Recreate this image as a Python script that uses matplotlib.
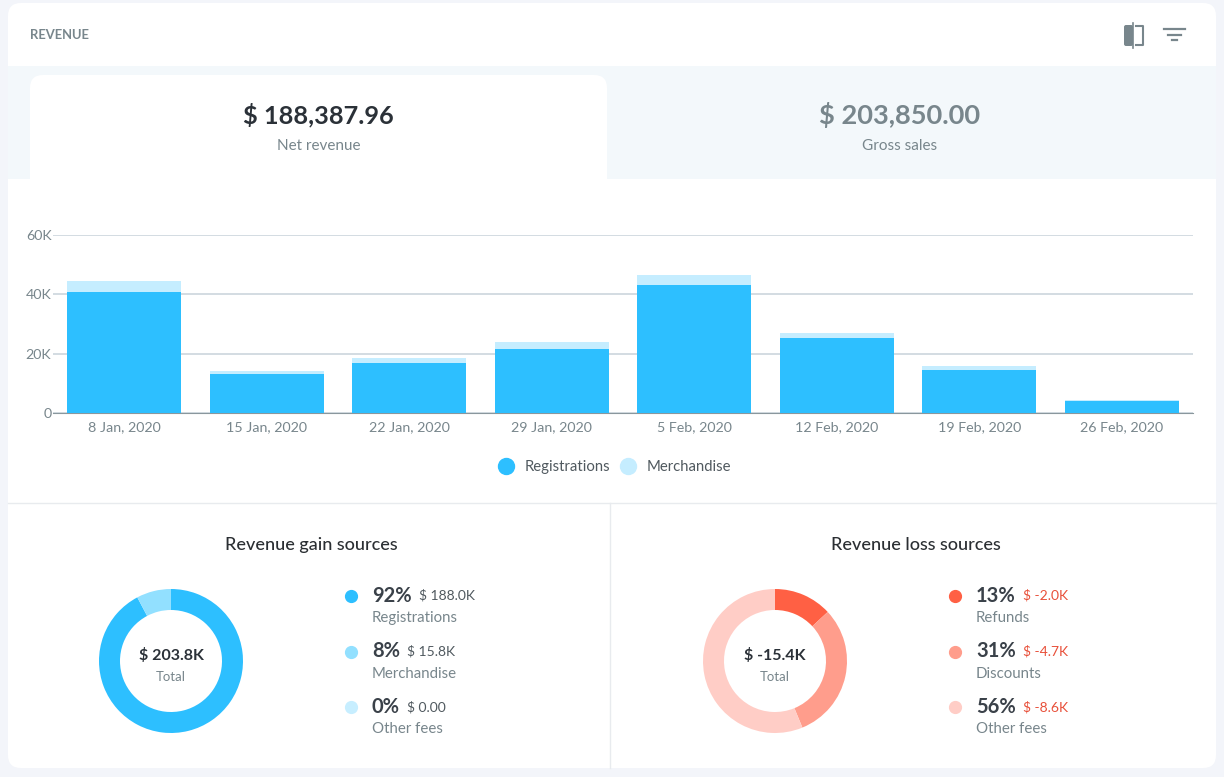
"""
Revenue dashboard card: stacked bars plus two donuts
"""
import matplotlib
matplotlib.use("Agg")
import matplotlib.pyplot as plt
import matplotlib.patches as mpatches
from matplotlib.lines import Line2D
import numpy as np

plt.rcParams["font.family"] = ["Lato", "DejaVu Sans"]

W, H = 1224, 777

# data
dates = ["8 Jan, 2020", "15 Jan, 2020", "22 Jan, 2020", "29 Jan, 2020",
         "5 Feb, 2020", "12 Feb, 2020", "19 Feb, 2020", "26 Feb, 2020"]
registrations = [40.8, 13.3, 17.0, 21.6, 43.1, 25.3, 14.5, 4.2]
merchandise = [3.7, 0.9, 1.5, 2.4, 3.4, 1.7, 1.3, 0.1]
y_ticks = [0, 20, 40, 60]
y_tick_labels = ["0", "20K", "40K", "60K"]

gain_labels = ["Registrations", "Merchandise", "Other fees"]
gain_values = [188.0, 15.8, 0.0]
gain_pcts = ["92%", "8%", "0%"]
gain_amounts = ["$ 188.0K", "$ 15.8K", "$ 0.00"]

loss_labels = ["Refunds", "Discounts", "Other fees"]
loss_values = [2.0, 4.7, 8.6]
loss_pcts = ["13%", "31%", "56%"]
loss_amounts = ["$ -2.0K", "$ -4.7K", "$ -8.6K"]

# colours
BG = "#f3f5fa"
BAND = "#f3f8fb"
LINE = "#e8ebee"
DARK = "#2b3138"
GREY = "#78868c"
BLUE = ["#2dbfff", "#92e0ff", "#c7eeff"]
RED = ["#ff6044", "#ff9d8c", "#ffcdc6"]
MERCH_BAR = "#c5edff"
LOSS_TEXT = "#e8503a"


def px_axes(fig, x0, y0, x1, y1, **kw):
    """axes from pixel box (y measured from the top)"""
    return fig.add_axes([x0 / W, 1 - y1 / H, (x1 - x0) / W, (y1 - y0) / H], **kw)


fig = plt.figure(figsize=(W / 100, H / 100), dpi=100, facecolor=BG)

# page layer in pixel coordinates
bg = fig.add_axes([0, 0, 1, 1])
bg.set_xlim(0, W)
bg.set_ylim(H, 0)
bg.axis("off")

bg.add_patch(mpatches.FancyBboxPatch((8, 3), 1208, 765, boxstyle="round,pad=0,rounding_size=13",
                                     facecolor="white", edgecolor="none"))
bg.add_patch(mpatches.Rectangle((8, 66), 1208, 113, facecolor=BAND, edgecolor="none"))
bg.add_patch(mpatches.FancyBboxPatch((30, 75), 577, 125, boxstyle="round,pad=0,rounding_size=13",
                                     facecolor="white", edgecolor="none"))
bg.add_patch(mpatches.Rectangle((8, 179), 1208, 40, facecolor="white", edgecolor="none"))
bg.plot([8, 1216], [503, 503], color=LINE, lw=1)
bg.plot([610, 610], [503, 768], color=LINE, lw=1)

bg.text(30, 35, "REVENUE", fontsize=9.4, fontweight="bold", color=GREY, ha="left", va="center")

# header icons
bg.add_patch(mpatches.FancyBboxPatch((1124, 25), 9, 21, boxstyle="round,pad=0,rounding_size=2",
                                     facecolor=GREY, edgecolor="none"))
bg.plot([1132.5, 1132.5], [22.5, 47.5], color=GREY, lw=1.2)
bg.plot([1136, 1143, 1143, 1136], [25.5, 25.5, 45, 45], color=GREY, lw=1.5)
bg.plot([1164, 1185], [29, 29], color=GREY, lw=1.6)
bg.plot([1167.5, 1181], [34.5, 34.5], color=GREY, lw=1.6)
bg.plot([1172, 1177], [40, 40], color=GREY, lw=1.6)

# headline numbers
bg.text(318.5, 115, "$ 188,387.96", fontsize=18.3, fontweight="bold", color=DARK, ha="center", va="center")
bg.text(318.5, 146, "Net revenue", fontsize=11, color=GREY, ha="center", va="center")
bg.text(899.5, 115, "$ 203,850.00", fontsize=19.6, fontweight="bold", color=GREY, ha="center", va="center")
bg.text(899.5, 146, "Gross sales", fontsize=11, color=GREY, ha="center", va="center")

# stacked bars
ax = px_axes(fig, 52.9, 235, 1192.9, 413)
ax.patch.set_alpha(0)
x = np.arange(len(dates))
ax.bar(x, registrations, width=0.8, color=BLUE[0], zorder=3)
ax.bar(x, merchandise, width=0.8, bottom=registrations, color=MERCH_BAR, zorder=3)
ax.set_xlim(-0.5, len(dates) - 0.5)
ax.set_ylim(0, 60)
ax.set_xticks(x, dates)
ax.set_yticks(y_ticks, y_tick_labels)
ax.grid(axis="y", color="#ccd6dd", lw=1.2, zorder=0)
ax.tick_params(axis="x", length=0, pad=6, labelsize=10.3, labelcolor=GREY)
ax.tick_params(axis="y", length=0, pad=1, labelsize=10.3, labelcolor=GREY)
for side in ["top", "right", "left"]:
    ax.spines[side].set_visible(False)
ax.spines["bottom"].set_color("#8a979d")

handles = [Line2D([], [], linestyle="none", marker="o", markersize=11.5, color=BLUE[0]),
           Line2D([], [], linestyle="none", marker="o", markersize=11.5, color=MERCH_BAR)]
ax.legend(handles, ["Registrations", "Merchandise"], loc="center",
          bbox_to_anchor=(0.5 - 12 / 1140, (413 - 467) / 178), ncol=2, frameon=False, fontsize=10.7,
          labelcolor="#50595f", handletextpad=0.25, columnspacing=0.2, borderpad=0)


def donut(cx, cy, values, colors, total):
    """ring centred on pixel (cx, cy)"""
    r = 72
    a = px_axes(fig, cx - r, cy - r, cx + r, cy + r)
    a.pie(values, colors=colors, startangle=90, counterclock=False, radius=1,
          wedgeprops={"width": 21 / r, "linewidth": 0})
    a.set_xlim(-1, 1)
    a.set_ylim(-1, 1)
    bg.text(cx, cy - 6, total, fontsize=11.5, fontweight="bold", color=DARK, ha="center", va="center")
    bg.text(cx, cy + 16, "Total", fontsize=9.5, color=GREY, ha="center", va="center")


def key(dot_x, labels, pcts, amounts, colors, amount_color):
    """legend column next to a donut"""
    for i, (label, pct, amount, color) in enumerate(zip(labels, pcts, amounts, colors)):
        row = 595.5 + i * 55.7
        bg.plot([dot_x], [row + 0.5], marker="o", markersize=8.5, color=color, linestyle="none")
        t = bg.text(dot_x + 21, row, pct, fontsize=14.5, fontweight="bold", color="#3a4149",
                    ha="left", va="center")
        bg.annotate(amount, xy=(1, 0.5), xycoords=t, xytext=(5, 0), textcoords="offset points",
                    fontsize=10, color=amount_color, ha="left", va="center")
        bg.text(dot_x + 21, row + 22.5, label, fontsize=10.8, color=GREY, ha="left", va="center")


bg.text(311.5, 545, "Revenue gain sources", fontsize=13, color="#2b2f33", fontweight="medium",
        ha="center", va="center")
bg.text(915.5, 545, "Revenue loss sources", fontsize=13, color="#2b2f33", fontweight="medium",
        ha="center", va="center")

donut(171, 661, gain_values, BLUE, "$ 203.8K")
donut(775, 661, loss_values, RED, "$ -15.4K")
key(351, gain_labels, gain_pcts, gain_amounts, BLUE, "#50595f")
key(955, loss_labels, loss_pcts, loss_amounts, RED, LOSS_TEXT)

fig.savefig("out.png", dpi=100, facecolor=BG)
